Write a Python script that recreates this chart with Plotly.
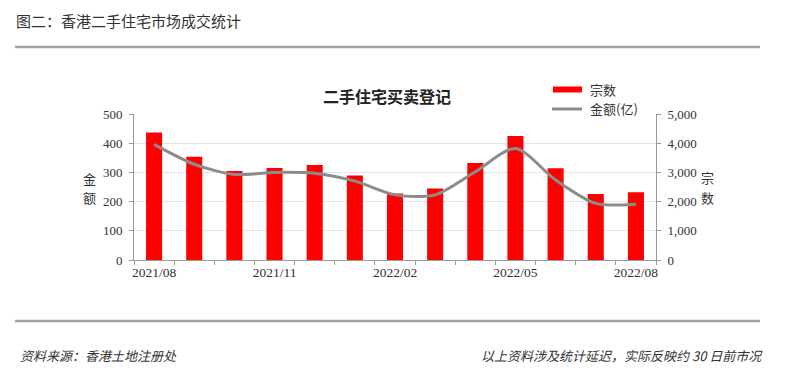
import plotly.graph_objects as go

months = ["2021/08", "2021/09", "2021/10", "2021/11", "2021/12", "2022/01", "2022/02",
          "2022/03", "2022/04", "2022/05", "2022/06", "2022/07", "2022/08"]
deals = [4370, 3540, 3050, 3150, 3250, 2890, 2280, 2450, 3320, 4250, 3140, 2260, 2320]
amount = [396, 328, 293, 300, 297, 270, 223, 223, 302, 382, 274, 194, 191]
tick_labels = ["2021/08", "", "", "2021/11", "", "", "2022/02", "", "", "2022/05", "", "", "2022/08"]

# page body has an 8px margin; figure coordinates are the window's minus OFF
OFF = 8
WIN_W, WIN_H = 789, 378
W, H = WIN_W - 2 * OFF, WIN_H - 2 * OFF
L, R, T, B = 134, 656, 114, 260          # plot area in window pixels
SERIF = "Liberation Serif, Noto Sans CJK SC"
CJK = "Noto Sans CJK SC"

fig = go.Figure()
fig.add_trace(go.Bar(x=months, y=deals, name="宗数", marker_color="#ff0000",
                     marker_line_width=0, width=0.4, yaxis="y"))
fig.add_trace(go.Scatter(x=months, y=amount, name="金额(亿)", mode="lines",
                         line=dict(color="#8c8c8c", width=3, shape="spline", smoothing=0.8),
                         yaxis="y2"))

fig.update_layout(
    width=W, height=H, paper_bgcolor="white", plot_bgcolor="white",
    margin=dict(l=L - OFF, r=WIN_W - OFF - R, t=T - OFF, b=WIN_H - OFF - B, pad=0, autoexpand=False),
    showlegend=False,
    font=dict(family=SERIF, size=13, color="#333333"),
    xaxis=dict(type="category", tickmode="array", tickvals=months, ticktext=tick_labels,
               tickson="boundaries", ticks="outside", ticklen=4, tickcolor="#999999",
               tickangle=0, automargin=False,
               showline=True, linecolor="#999999", linewidth=1, showgrid=False,
               tickfont=dict(family=SERIF, size=13.5, color="#333333"), range=[-0.5, 12.5]),
    yaxis=dict(side="right", range=[0, 5000], dtick=1000, tickformat=",",
               automargin=False, ticklabelstandoff=4,
               showline=True, linecolor="#999999", linewidth=1,
               ticks="outside", ticklen=4, tickcolor="#999999",
               showgrid=True, gridcolor="#dfe5ee", gridwidth=1, zeroline=False,
               tickfont=dict(family=SERIF, size=13, color="#333333")),
    yaxis2=dict(side="left", overlaying="y", range=[0, 500], dtick=100,
                automargin=False, ticklabelstandoff=4,
                showline=True, linecolor="#999999", linewidth=1,
                ticks="outside", ticklen=4, tickcolor="#999999",
                showgrid=False, zeroline=False,
                tickfont=dict(family=SERIF, size=13, color="#333333")),
)

# paper coordinates are relative to the plot area
def ppx(x):
    return (x - L) / (R - L)

def ppy(y):
    return (B - y) / (B - T)

annotations = [
    dict(text="图二：香港二手住宅市场成交统计", x=ppx(15), y=ppy(8.5), xanchor="left", yanchor="top",
         font=dict(family=CJK, size=15, color="#333333"), borderpad=0),
    dict(text="<b>二手住宅买卖登记</b>", x=ppx(387), y=ppy(96), xanchor="center", yanchor="middle",
         font=dict(family=CJK, size=16, color="#222222")),
    dict(text="金", x=ppx(89), y=ppy(178), xanchor="center", yanchor="middle",
         font=dict(family=CJK, size=13, color="#333333")),
    dict(text="额", x=ppx(89), y=ppy(197), xanchor="center", yanchor="middle",
         font=dict(family=CJK, size=13, color="#333333")),
    dict(text="宗", x=ppx(707), y=ppy(177), xanchor="center", yanchor="middle",
         font=dict(family=CJK, size=13, color="#333333")),
    dict(text="数", x=ppx(707), y=ppy(197), xanchor="center", yanchor="middle",
         font=dict(family=CJK, size=13, color="#333333")),
    dict(text="宗数", x=ppx(588), y=ppy(89), xanchor="left", yanchor="middle",
         font=dict(family=CJK, size=13, color="#333333")),
    dict(text="金额(亿)", x=ppx(588), y=ppy(108), xanchor="left", yanchor="middle",
         font=dict(family=CJK, size=13, color="#333333")),
    dict(text="<i>资料来源：香港土地注册处</i>", x=ppx(18), y=ppy(355), xanchor="left", yanchor="middle",
         font=dict(family=CJK, size=13, color="#333333")),
    dict(text="<i>以上资料涉及统计延迟，实际反映约 30 日前市况</i>", x=ppx(765), y=ppy(355),
         xanchor="right", yanchor="middle", font=dict(family=CJK, size=13, color="#333333")),
]
for a in annotations:
    a.update(xref="paper", yref="paper", showarrow=False)
fig.update_layout(annotations=annotations)

shapes = [
    dict(type="line", x0=ppx(15), x1=ppx(760), y0=ppy(47), y1=ppy(47),
         line=dict(color="#a0a0a0", width=2.5)),
    dict(type="line", x0=ppx(15), x1=ppx(760), y0=ppy(321), y1=ppy(321),
         line=dict(color="#a0a0a0", width=2.5)),
    dict(type="rect", x0=ppx(553), x1=ppx(582), y0=ppy(86.5), y1=ppy(92.5),
         fillcolor="#ff0000", line=dict(width=0)),
    dict(type="line", x0=ppx(552), x1=ppx(582), y0=ppy(109), y1=ppy(109),
         line=dict(color="#8c8c8c", width=3)),
]
for s in shapes:
    s.update(xref="paper", yref="paper")
fig.update_layout(shapes=shapes)

fig.write_html("out.html")
